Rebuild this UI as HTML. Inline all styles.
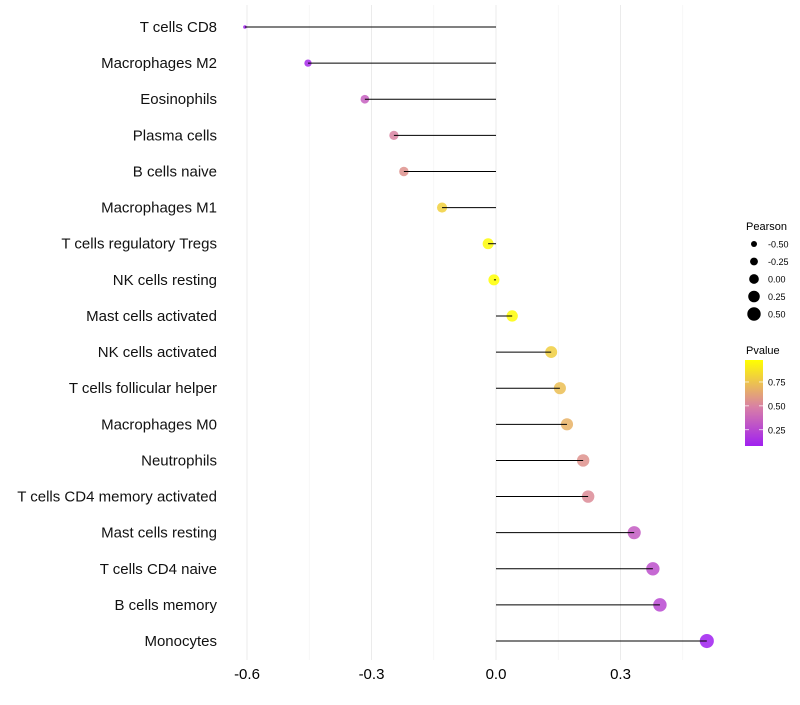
<!DOCTYPE html>
<html><head><meta charset="utf-8"><style>
body{margin:0;background:#fff;width:800px;height:700px;overflow:hidden;font-family:"Liberation Sans",sans-serif}
</style></head><body>
<svg id="chart" width="800" height="700" xmlns="http://www.w3.org/2000/svg">
<defs><linearGradient id="pg" x1="0" y1="1" x2="0" y2="0">
<stop offset="0" stop-color="#A020F0"/><stop offset="0.45" stop-color="#D87FA6"/><stop offset="1" stop-color="#FFFF00"/></linearGradient></defs>
<g id="grid"></g><g id="dots"></g><g id="stems"></g><g id="labels"></g>
<g font-size="10">
<text x="746" y="230" font-size="11">Pearson</text>
<g id="sizeleg"></g></g>
<g font-size="10">
<text x="746" y="354" font-size="11">Pvalue</text>
<rect x="745" y="360" width="18" height="86" fill="url(#pg)"/>
<g id="colleg"></g></g>
</svg>
<script>
const categories=["T cells CD8","Macrophages M2","Eosinophils","Plasma cells","B cells naive","Macrophages M1","T cells regulatory  Tregs","NK cells resting","Mast cells activated","NK cells activated","T cells follicular helper","Macrophages M0","Neutrophils","T cells CD4 memory activated","Mast cells resting","T cells CD4 naive","B cells memory","Monocytes"];
const pearson=[-0.605,-0.453,-0.316,-0.246,-0.222,-0.130,-0.019,-0.005,0.039,0.133,0.154,0.171,0.210,0.222,0.333,0.378,0.395,0.508];
const pvalue=[0.04,0.12,0.35,0.50,0.56,0.80,0.96,0.98,0.97,0.79,0.73,0.68,0.56,0.53,0.33,0.28,0.25,0.08];
const xTicks=[-0.6,-0.3,0.0,0.3];
const xMinor=[-0.45,-0.15,0.15,0.45];
const sizeLegend=[-0.5,-0.25,0,0.25,0.5];
const colorLegend=[0.75,0.5,0.25];
const NS="http://www.w3.org/2000/svg";
const x=v=>496+v*415;
const y=i=>27+i*36.12;
const r=v=>v>=-0.45?Math.sqrt(13.7+(v+0.45)*37.5):Math.max(1.8,1.8+(v+0.605)/0.155*1.9);
const rl=v=>3+(v+0.5)*3.7;
const pY=p=>446-(p-0.08)/0.9*86;
function lerp(a,b,t){return a.map((c,i)=>Math.round(c+(b[i]-c)*t));}
function col(p){const t=Math.max(0,Math.min(1,(p-0.08)/0.9));const A=[160,32,240],M=[216,127,166],B=[255,255,0];
const c=t<0.45?lerp(A,M,t/0.45):lerp(M,B,(t-0.45)/0.55);return `rgb(${c})`;}
function mk(tag,at,parent){const e=document.createElementNS(NS,tag);for(const k in at)e.setAttribute(k,at[k]);parent.appendChild(e);return e;}
const grid=document.getElementById('grid'),dots=document.getElementById('dots'),stems=document.getElementById('stems'),labels=document.getElementById('labels');
xMinor.forEach(v=>{const l=mk('line',{x1:x(v),x2:x(v),y1:5,y2:660,stroke:'#f2f2f2','stroke-width':0.6},grid);

});
xTicks.forEach(v=>{const l=mk('line',{x1:x(v),x2:x(v),y1:5,y2:660,stroke:'#ebebeb','stroke-width':1},grid);


const t=mk('text',{x:x(v),y:679,'text-anchor':'middle','font-size':15,fill:'#000'},labels);t.textContent=v.toFixed(1);

});
categories.forEach((c,i)=>{
const d=mk('circle',{cx:x(pearson[i]),cy:y(i),r:r(pearson[i]),fill:col(pvalue[i]),'fill-opacity':0.85},dots);


const l=mk('line',{x1:x(0),x2:x(pearson[i]),y1:y(i),y2:y(i),stroke:'#000','stroke-width':1},stems);


const t=mk('text',{x:217,y:y(i)+5,'text-anchor':'end','font-size':15,fill:'#111'},labels);t.textContent=c;

});
const sl=document.getElementById('sizeleg');
sizeLegend.forEach((v,i)=>{const cy=244+i*17.5;
const c=mk('circle',{cx:754,cy:cy,r:rl(v),fill:'#000'},sl);


const t=mk('text',{x:768,y:cy+3.5,'font-size':9},sl);t.textContent=v.toFixed(2);

});
const cl=document.getElementById('colleg');
colorLegend.forEach(v=>{const yy=pY(v);
mk('line',{x1:745,x2:749,y1:yy,y2:yy,stroke:'#fff','stroke-width':0.7},cl);
mk('line',{x1:759,x2:763,y1:yy,y2:yy,stroke:'#fff','stroke-width':0.7},cl);
const t=mk('text',{x:768,y:yy+3.5,'font-size':9},cl);t.textContent=v.toFixed(2);

});
</script>
</body></html>
